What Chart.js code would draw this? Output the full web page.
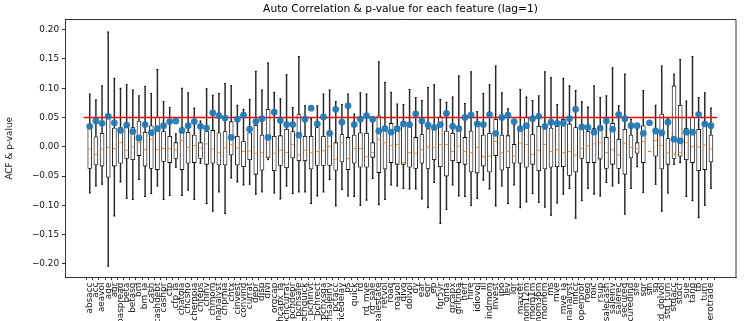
<!DOCTYPE html>
<html>
<head>
<meta charset="utf-8">
<script src="https://cdn.jsdelivr.net/npm/chart.js@4.4.1/dist/chart.umd.min.js"></script>
<style>
    html, body { margin: 0; padding: 0; background: #fff; overflow: hidden; }
    #wrap { width: 748px; height: 321px; }
</style>
</head>
<body>
<div id="wrap"><canvas id="acfChart"></canvas></div>
<script>
// feature names, in the order of the x axis
const features = [
    'absacc', 'acc', 'aeavol', 'age', 'agr', 'baspread', 'beta', 'betasq', 'bm', 'bm_ia',
    'cash', 'cashdebt', 'cashpr', 'cfp', 'cfp_ia', 'chatoia', 'chcsho', 'chempia', 'chfeps', 'chinv',
    'chmom', 'chnanalyst', 'chpmia', 'chtx', 'cinvest', 'convind', 'currat', 'depr', 'disp', 'divi',
    'orgcap', 'pchcapx_ia', 'pchcurrat', 'pchdepr', 'pchgm_pchsale', 'pchquick', 'pchsale_pchinvt', 'pchsale_pchrect', 'pchsale_pchxsga', 'pchsaleinv',
    'pctacc', 'pricedelay', 'ps', 'quick', 'rd', 'rd_mve', 'rd_sale', 'realestate', 'retvol', 'roaq',
    'roavol', 'divo', 'dolvol', 'dy', 'ear', 'egr', 'ep', 'fgr5yr', 'gma', 'grcapx',
    'grltnoa', 'herf', 'hire', 'idiovol', 'ill', 'indmom', 'invest', 'ipo', 'lev', 'lgr',
    'maxret', 'mom12m', 'mom1m', 'mom36m', 'mom6m', 'ms', 'mve', 'mve_ia', 'nanalyst', 'nincr',
    'operprof', 'roeq', 'roic', 'rsup', 'salecash', 'saleinv', 'salerec', 'secured', 'securedind', 'sfe',
    'sgr', 'sin', 'sp', 'std_dolvol', 'std_turn', 'stdacc', 'stdcf', 'sue', 'tang', 'tb',
    'turn', 'zerotrade'
];

// box plot of the lag-1 ACF for each feature
const whiskerLow = [
    -0.079, -0.067, -0.064, -0.204, -0.118, -0.060, -0.088, -0.090, -0.056, -0.085,
    -0.080, -0.067, -0.090, -0.083, -0.035, -0.083, -0.074, -0.090, -0.028, -0.097,
    -0.110, -0.077, -0.114, -0.053, -0.060, -0.065, -0.064, -0.081, -0.077, -0.022,
    -0.079, -0.089, -0.067, -0.080, -0.077, -0.077, -0.097, -0.084, -0.077, -0.056,
    -0.101, -0.073, -0.084, -0.085, -0.100, -0.091, -0.054, -0.099, -0.090, -0.065,
    -0.067, -0.071, -0.072, -0.072, -0.089, -0.104, -0.061, -0.131, -0.107, -0.065,
    -0.084, -0.085, -0.100, -0.088, -0.057, -0.072, -0.101, -0.067, -0.097, -0.065,
    -0.104, -0.094, -0.080, -0.095, -0.103, -0.117, -0.096, -0.081, -0.071, -0.122,
    -0.092, -0.071, -0.081, -0.084, -0.061, -0.067, -0.062, -0.115, -0.071, -0.034,
    -0.078, -0.008, -0.064, -0.110, -0.079, -0.030, -0.027, -0.085, -0.092, -0.121,
    -0.100, -0.071
];
const q1 = [
    -0.037, -0.031, -0.033, -0.052, -0.033, -0.028, -0.020, -0.022, -0.015, -0.033,
    -0.037, -0.039, -0.025, -0.027, -0.020, -0.039, -0.028, -0.027, -0.020, -0.030,
    -0.028, -0.031, -0.031, -0.014, -0.031, -0.034, -0.022, -0.047, -0.040, -0.019,
    -0.041, -0.032, -0.036, -0.019, -0.024, -0.024, -0.038, -0.032, -0.032, -0.032,
    -0.040, -0.026, -0.039, -0.028, -0.035, -0.035, -0.018, -0.044, -0.038, -0.027,
    -0.030, -0.030, -0.035, -0.037, -0.028, -0.037, -0.022, -0.034, -0.050, -0.024,
    -0.027, -0.030, -0.043, -0.045, -0.033, -0.043, -0.015, -0.040, -0.036, -0.028,
    -0.028, -0.035, -0.030, -0.041, -0.038, -0.035, -0.034, -0.034, -0.049, -0.043,
    -0.020, -0.027, -0.027, -0.021, -0.037, -0.030, -0.037, -0.047, -0.019, -0.011,
    -0.027, -0.008, -0.016, -0.038, -0.030, -0.020, -0.016, -0.022, -0.027, -0.041,
    -0.039, -0.026
];
const median = [
    -0.004, -0.013, -0.004, -0.001, -0.003, 0.007, -0.006, 0.000, 0.007, -0.005,
    0.013, -0.005, -0.003, -0.003, -0.005, 0.011, -0.001, 0.002, -0.002, 0.005,
    -0.004, -0.010, -0.002, 0.004, -0.002, -0.008, -0.007, -0.011, -0.010, -0.017,
    -0.011, -0.006, -0.010, 0.004, -0.014, -0.006, -0.010, -0.008, -0.007, 0.001,
    -0.022, 0.007, -0.020, -0.003, -0.003, -0.017, -0.010, 0.013, 0.007, 0.002,
    0.004, -0.027, -0.010, -0.011, -0.005, 0.000, -0.001, 0.004, 0.004, -0.008,
    0.001, -0.008, -0.010, -0.001, -0.017, -0.016, 0.009, -0.010, -0.008, -0.016,
    0.006, 0.004, -0.013, -0.006, 0.004, -0.008, -0.005, -0.010, -0.008, -0.014,
    -0.003, 0.002, 0.005, 0.007, -0.010, -0.005, -0.014, 0.006, -0.001, -0.003,
    0.009, -0.008, 0.011, 0.002, -0.010, -0.013, -0.010, 0.007, 0.000, 0.000,
    0.003, -0.004
];
const q3 = [
    0.035, 0.017, 0.023, 0.054, 0.032, 0.033, 0.034, 0.033, 0.044, 0.025,
    0.036, 0.050, 0.026, 0.018, 0.007, 0.025, 0.025, 0.020, 0.007, 0.026,
    0.028, 0.024, 0.026, 0.043, 0.018, 0.009, 0.024, 0.037, 0.020, 0.064,
    0.018, 0.019, 0.030, 0.026, 0.055, 0.018, 0.018, 0.033, 0.018, 0.026,
    0.007, 0.021, 0.016, 0.020, 0.024, 0.023, 0.007, 0.053, 0.035, 0.040,
    0.033, 0.041, 0.035, 0.016, 0.021, 0.031, 0.030, 0.051, 0.027, 0.023,
    0.035, 0.016, 0.027, 0.040, 0.020, 0.023, 0.047, 0.020, 0.019, 0.004,
    0.031, 0.050, 0.021, 0.035, 0.031, 0.032, 0.035, 0.047, 0.039, 0.033,
    0.031, 0.026, 0.031, 0.034, 0.016, 0.040, 0.013, 0.030, 0.020, 0.007,
    0.036, -0.008, 0.030, 0.056, 0.014, 0.104, 0.071, 0.031, 0.050, 0.030,
    0.040, 0.020
];
const whiskerHigh = [
    0.090, 0.080, 0.104, 0.196, 0.117, 0.100, 0.106, 0.097, 0.087, 0.103,
    0.091, 0.132, 0.077, 0.067, 0.022, 0.100, 0.092, 0.066, 0.044, 0.099,
    0.088, 0.091, 0.108, 0.104, 0.071, 0.064, 0.081, 0.129, 0.097, 0.143,
    0.093, 0.082, 0.123, 0.067, 0.154, 0.070, 0.048, 0.070, 0.090, 0.097,
    0.077, 0.072, 0.090, 0.056, 0.092, 0.090, 0.046, 0.145, 0.110, 0.093,
    0.073, 0.072, 0.098, 0.084, 0.079, 0.101, 0.106, 0.081, 0.076, 0.085,
    0.121, 0.074, 0.128, 0.060, 0.091, 0.106, 0.138, 0.092, 0.065, 0.037,
    0.098, 0.085, 0.079, 0.087, 0.128, 0.118, 0.072, 0.117, 0.104, 0.096,
    0.077, 0.068, 0.104, 0.084, 0.087, 0.135, 0.070, 0.124, 0.047, 0.030,
    0.096, -0.008, 0.071, 0.138, 0.048, 0.124, 0.149, 0.078, 0.154, 0.084,
    0.092, 0.066
];
// p-value of each feature (blue dots)
const pValue = [
    0.035, 0.044, 0.040, 0.052, 0.041, 0.028, 0.037, 0.026, 0.015, 0.038,
    0.024, 0.031, 0.036, 0.043, 0.044, 0.028, 0.036, 0.043, 0.035, 0.032,
    0.058, 0.053, 0.049, 0.016, 0.047, 0.054, 0.030, 0.043, 0.048, 0.016,
    0.059, 0.045, 0.038, 0.038, 0.020, 0.047, 0.066, 0.039, 0.051, 0.023,
    0.064, 0.042, 0.070, 0.038, 0.047, 0.053, 0.047, 0.027, 0.031, 0.025,
    0.031, 0.039, 0.038, 0.056, 0.044, 0.037, 0.033, 0.038, 0.057, 0.035,
    0.031, 0.050, 0.054, 0.039, 0.038, 0.055, 0.023, 0.050, 0.054, 0.043,
    0.031, 0.036, 0.048, 0.052, 0.035, 0.042, 0.040, 0.040, 0.048, 0.064,
    0.034, 0.033, 0.025, 0.032, 0.044, 0.030, 0.055, 0.048, 0.036, 0.036,
    0.023, 0.041, 0.027, 0.024, 0.042, 0.013, 0.010, 0.025, 0.025, 0.055,
    0.039, 0.036
];
const yTicks = [-0.20, -0.15, -0.10, -0.05, 0.00, 0.05, 0.10, 0.15, 0.20];
const threshold = 0.05;

const pos = features.map((f, i) => i + 1);
const FONT = "'DejaVu Sans', sans-serif";

// matplotlib-like frame (top + right spines) and title centred over the axes
const framePlugin = {
    id: 'frame',
    afterDraw(chart) {
        const { ctx, chartArea } = chart;
        ctx.save();
        ctx.strokeStyle = '#000';
        ctx.lineWidth = 0.8;
        ctx.beginPath();
        ctx.moveTo(chartArea.left, chartArea.top);
        ctx.lineTo(chartArea.right, chartArea.top);
        ctx.lineTo(chartArea.right, chartArea.bottom);
        ctx.stroke();
        ctx.fillStyle = '#000';
        ctx.font = "10.7px " + FONT;
        ctx.textAlign = 'center';
        ctx.textBaseline = 'alphabetic';
        ctx.fillText('Auto Correlation & p-value for each feature (lag=1)',
            (chartArea.left + chartArea.right) / 2, chartArea.top - 7.5);
        ctx.restore();
    }
};

const ctx = document.getElementById('acfChart').getContext('2d');
const acfChart = new Chart(ctx, {
    type: 'bar',
    data: {
        datasets: [{
            // p-values
            type: 'scatter',
            data: pos.map((x, i) => ({ x: x, y: pValue[i] })),
            backgroundColor: 'rgba(31, 119, 180, 0.92)',
            borderWidth: 0,
            pointRadius: 3.4,
            order: 0
        }, {
            // 0.05 threshold, from 0 to n + 1
            type: 'line',
            data: [{ x: 0, y: threshold }, { x: features.length + 1, y: threshold }],
            borderColor: '#ff0000',
            borderWidth: 1.6,
            pointRadius: 0,
            order: 1
        }, {
            type: 'scatter',
            data: pos.map((x, i) => ({ x: x, y: median[i] })),
            pointStyle: 'line',
            pointRadius: 1.6,
            borderColor: '#ff7f0e',
            borderWidth: 0.9,
            order: 2
        }, {
            // whisker caps
            type: 'scatter',
            data: pos.map((x, i) => ({ x: x, y: whiskerLow[i] }))
                .concat(pos.map((x, i) => ({ x: x, y: whiskerHigh[i] }))),
            pointStyle: 'line',
            pointRadius: 0.9,
            borderColor: '#000',
            borderWidth: 0.9,
            order: 3
        }, {
            // boxes q1..q3
            type: 'bar',
            data: pos.map((x, i) => ({ x: x, y: [q1[i], q3[i]] })),
            backgroundColor: '#fff',
            borderColor: '#000',
            borderWidth: 0.85,
            borderSkipped: false,
            barThickness: 4,
            grouped: false,
            order: 4
        }, {
            // whiskers
            type: 'bar',
            data: pos.map((x, i) => ({ x: x, y: [whiskerLow[i], whiskerHigh[i]] })),
            backgroundColor: 'rgba(0, 0, 0, 0.85)',
            borderWidth: 0,
            barThickness: 0.8,
            grouped: false,
            order: 5
        }]
    },
    options: {
        responsive: true,
        maintainAspectRatio: false,
        animation: false,
        layout: { padding: { top: 19.5, left: 0, right: 12, bottom: 0 } },
        plugins: {
            legend: { display: false },
            tooltip: { enabled: false },
            title: { display: false }
        },
        scales: {
            x: {
                type: 'linear',
                min: -2.49,
                max: 105.54,
                afterBuildTicks: (scale) => { scale.ticks = pos.map(v => ({ value: v })); },
                afterFit: (scale) => { scale.height = 44; },
                grid: { drawOnChartArea: false, drawTicks: true, tickLength: 3.1, color: '#000', lineWidth: 0.8 },
                border: { display: true, color: '#000', width: 0.8 },
                ticks: {
                    autoSkip: false,
                    minRotation: 90,
                    maxRotation: 90,
                    padding: 2.5,
                    color: '#111',
                    font: { family: FONT, size: 8.9 },
                    callback: (v) => features[v - 1]
                }
            },
            y: {
                min: -0.2224,
                max: 0.2174,
                afterBuildTicks: (scale) => { scale.ticks = yTicks.map(v => ({ value: v })); },
                afterFit: (scale) => { scale.width = 65; },
                grid: { drawOnChartArea: false, drawTicks: true, tickLength: 3.1, color: '#000', lineWidth: 0.8 },
                border: { display: true, color: '#000', width: 0.8 },
                title: {
                    display: true,
                    text: 'ACF & p-value',
                    color: '#111',
                    font: { family: FONT, size: 8.9 },
                    padding: { top: 4.7, bottom: 0 }
                },
                ticks: {
                    padding: 2.8,
                    color: '#111',
                    font: { family: FONT, size: 8.9 },
                    callback: (v) => Math.abs(v) < 1e-9 ? '0.00' : (v < 0 ? '\u2212' : '') + Math.abs(v).toFixed(2)
                }
            }
        }
    },
    plugins: [framePlugin]
});
</script>
</body>
</html>
